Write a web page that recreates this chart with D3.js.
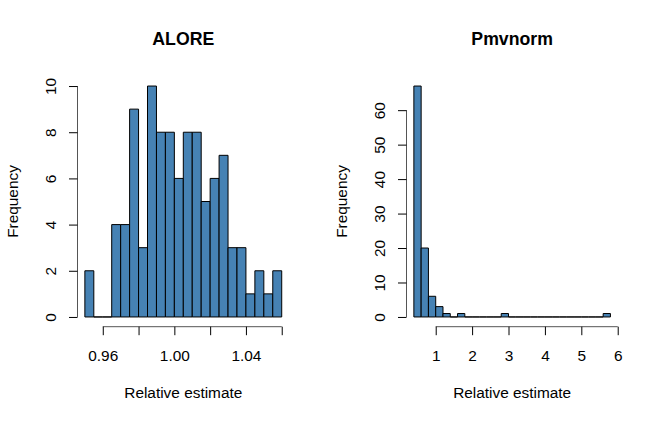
<!DOCTYPE html>
<html><head><meta charset="utf-8">
<script src="https://cdn.jsdelivr.net/npm/d3@7"></script>
<style>body{margin:0;background:#fff}svg{display:block}text{font-family:"Liberation Sans",Arial,sans-serif;fill:#000}</style>
</head><body>
<script>
// ALORE histogram: bins of width 0.005 starting at 0.95
const aloreBreakStart = 0.95, aloreBinWidth = 0.005;
const aloreCounts = [2,0,0,4,4,9,3,10,8,8,6,8,8,5,6,7,3,3,1,2,1,2];
const aloreXTicks = [0.96,0.98,1.00,1.02,1.04,1.06];
const aloreXLabels = ["0.96","","1.00","","1.04",""];
const aloreYTicks = [0,2,4,6,8,10];

// Pmvnorm histogram: bins of width 0.2 starting at 0.4
const pmvBreakStart = 0.4, pmvBinWidth = 0.2;
const pmvCounts = [67,20,6,3,1,0,1,0,0,0,0,0,1,0,0,0,0,0,0,0,0,0,0,0,0,0,1];
const pmvXTicks = [1,2,3,4,5,6];
const pmvYTicks = [0,10,20,30,40,50,60];

const W = 658, H = 423;
const FS = "15.4px";
const svg = d3.select("body").append("svg").attr("width", W).attr("height", H);

function panel(cfg) {
  const n = cfg.counts.length;
  const x0 = cfg.start, x1 = cfg.start + n * cfg.width;
  const ymax = d3.max(cfg.counts);
  const xpad = (x1 - x0) * 0.04, ypad = ymax * 0.04;
  const x = d3.scaleLinear().domain([x0 - xpad, x1 + xpad]).range([cfg.left, cfg.right]);
  const y = d3.scaleLinear().domain([-ypad, ymax + ypad]).range([cfg.bottom, cfg.top]);
  const g = svg.append("g");
  const bins = cfg.counts.map((c, i) => ({x0: cfg.start + i * cfg.width, x1: cfg.start + (i + 1) * cfg.width, c}));
  g.selectAll("path.bar").data(bins).enter().append("path").attr("class", "bar")
    .attr("d", d => {
      const a = x(d.x0), b = x(d.x1), t = y(d.c), z = y(0);
      return `M${a},${z}V${t}H${b}V${z}Z`;
    })
    .attr("fill", "#4682B4").attr("stroke", "#000").attr("stroke-width", 1);
  // x axis
  const xa = g.append("g").attr("transform", `translate(0,${cfg.bottom + 0.5})`)
    .call(d3.axisBottom(x).tickValues(cfg.xticks).tickSize(8.5).tickSizeOuter(0)
      .tickFormat((d, i) => cfg.xlabels ? cfg.xlabels[i] : d3.format("d")(d)));
  xa.select(".domain").attr("d", `M${x(cfg.xticks[0])},0H${x(cfg.xticks[cfg.xticks.length-1])}`).attr("stroke", "#555");
  xa.selectAll(".tick line").attr("stroke", "#000");
  xa.selectAll(".tick text").attr("font-size", FS).attr("font-family", "Liberation Sans, Arial, sans-serif")
    .attr("y", 361.5 - (cfg.bottom + 0.5)).attr("dy", null);
  // y axis
  const ya = g.append("g").attr("transform", `translate(${cfg.left + 0.5},0)`)
    .call(d3.axisLeft(y).tickValues(cfg.yticks).tickSize(8.5).tickSizeOuter(0));
  ya.select(".domain").attr("d", `M0,${y(cfg.yticks[0])}V${y(cfg.yticks[cfg.yticks.length-1])}`).attr("stroke", "#555");
  ya.selectAll(".tick line").attr("stroke", "#000");
  ya.selectAll(".tick text").attr("font-size", FS).attr("font-family", "Liberation Sans, Arial, sans-serif")
    .attr("x", null).attr("dy", null).attr("text-anchor", "middle")
    .attr("transform", `translate(${cfg.ylabX - cfg.left - 0.5},0) rotate(-90)`);
  // titles
  const cx = (cfg.left + cfg.right) / 2;
  svg.append("text").attr("x", cx).attr("y", 45).attr("text-anchor", "middle")
    .attr("font-size", "17.7px").attr("font-weight", "bold").text(cfg.title);
  svg.append("text").attr("x", cx).attr("y", 398).attr("text-anchor", "middle")
    .attr("font-size", FS).text("Relative estimate");
  svg.append("text").attr("transform", `translate(${cfg.freqX},${(cfg.top + cfg.bottom) / 2}) rotate(-90)`)
    .attr("text-anchor", "middle").attr("font-size", FS).text("Frequency");
}

panel({counts: aloreCounts, start: aloreBreakStart, width: aloreBinWidth, xticks: aloreXTicks, xlabels: aloreXLabels,
  yticks: aloreYTicks, title: "ALORE", left: 77, right: 289.6, top: 76.8, bottom: 326.2, ylabX: 55.5, freqX: 18});
panel({counts: pmvCounts, start: pmvBreakStart, width: pmvBinWidth, xticks: pmvXTicks, xlabels: null,
  yticks: pmvYTicks, title: "Pmvnorm", left: 406, right: 618.3, top: 76.8, bottom: 326.2, ylabX: 384.5, freqX: 347});
</script>
</body></html>
